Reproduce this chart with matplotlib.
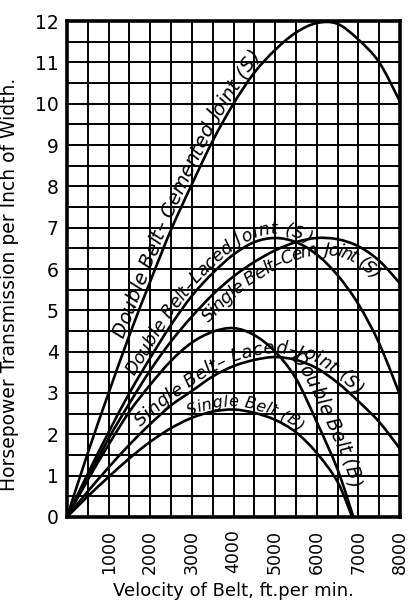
import numpy as np
import matplotlib
matplotlib.use('Agg')
import matplotlib.pyplot as plt
from matplotlib.path import Path
from matplotlib.patches import PathPatch
from matplotlib.transforms import IdentityTransform
from matplotlib.font_manager import FontProperties

# velocity of belt, ft per min
vel = [0, 500, 1000, 1500, 2000, 2500, 3000, 3500, 4000,
       4500, 5000, 5500, 6000, 6500, 7000, 7500, 8000]
dbl_cemented = [0, 1.55, 3.0, 4.4, 5.7, 6.95, 8.05, 9.1, 10.0,
                10.75, 11.3, 11.72, 11.95, 11.93, 11.55, 11.0, 10.05]
dbl_laced = [0, 1.05, 2.05, 3.0, 3.85, 4.65, 5.35, 5.9, 6.35,
             6.65, 6.75, 6.65, 6.35, 5.85, 5.15, 4.2, 2.95]
sgl_cemented = [0, 0.95, 1.9, 2.75, 3.55, 4.25, 4.85, 5.38, 5.82,
                6.17, 6.45, 6.65, 6.75, 6.72, 6.55, 6.2, 5.65]
sgl_laced = [0, 0.62, 1.2, 1.75, 2.25, 2.7, 3.05, 3.4, 3.65,
             3.8, 3.87, 3.8, 3.6, 3.25, 2.8, 2.3, 1.65]
vel_db = [0, 500, 1000, 1500, 2000, 2500, 3000, 3500, 4000,
          4500, 5000, 5500, 6000, 6500, 6880]
dbl_b = [0, 0.9, 1.75, 2.55, 3.2, 3.78, 4.22, 4.48, 4.57,
         4.4, 4.0, 3.35, 2.3, 1.15, 0]
vel_sb = [0, 500, 1000, 1500, 2000, 2500, 3000, 3500, 4000,
          4500, 5000, 5500, 6000, 6500, 6850]
sgl_b = [0, 0.5, 0.97, 1.42, 1.82, 2.15, 2.4, 2.55, 2.6,
         2.52, 2.35, 2.05, 1.55, 0.85, 0]

# label text, start velocity, baseline offset (px), size
curves = [
    (vel, dbl_cemented, 'Double Belt\u2013 Cemented Joint (S)', 1450, 4, 14),
    (vel, dbl_laced, 'Double Belt\u2013Laced Joint (S)', 1700, 4, 12.5),
    (vel, sgl_cemented, 'Single Belt\u2013Cem. Joint (S)', 3100, -17, 12.5),
    (vel, sgl_laced, 'Single Belt\u2013 Laced\u2013Joint (S)', 1850, 4, 13),
    (vel_db, dbl_b, 'Double Belt (B)', 5200, 7, 13.5),
    (vel_sb, sgl_b, 'Single Belt (B)', 2950, 3, 11.5),
]

DPI = 100


def smooth(xs, ys):
    # catmull-rom through the read points, as bezier segments
    p = np.column_stack([xs, ys]).astype(float)
    q = np.vstack([p[0], p, p[-1]])
    verts = [p[0]]
    codes = [Path.MOVETO]
    dense = [p[:1]]
    t = np.linspace(0, 1, 25)[1:, None]
    for i in range(len(p) - 1):
        p0, p1, p2, p3 = q[i], q[i + 1], q[i + 2], q[i + 3]
        c1 = p1 + (p2 - p0) / 6
        c2 = p2 - (p3 - p1) / 6
        verts += [c1, c2, p2]
        codes += [Path.CURVE4] * 3
        dense.append((1 - t) ** 3 * p1 + 3 * (1 - t) ** 2 * t * c1
                     + 3 * (1 - t) * t ** 2 * c2 + t ** 3 * p2)
    return Path(verts, codes), np.vstack(dense)


def curve_label(ax, pts, text, x0, off, size):
    r = ax.figure.canvas.get_renderer()
    fp = FontProperties(size=size, style='italic')

    def width(s):
        return r.get_text_width_height_descent(s, fp, ismath=False)[0]

    P = ax.transData.transform(pts)
    s = np.concatenate([[0], np.cumsum(np.hypot(*np.diff(P, axis=0).T))])
    start = np.interp(x0, pts[:, 0], s)
    for k, ch in enumerate(text):
        if ch == ' ':
            continue
        c = start + width(text[:k + 1]) - width(ch) / 2
        i = int(np.clip(np.searchsorted(s, c), 1, len(s) - 1))
        dx, dy = P[i] - P[i - 1]
        n = np.hypot(dx, dy)
        x = np.interp(c, s, P[:, 0]) - dy / n * off
        y = np.interp(c, s, P[:, 1]) + dx / n * off
        ax.text(x, y, ch, fontproperties=fp, transform=IdentityTransform(),
                ha='center', va='baseline', rotation_mode='anchor',
                rotation=np.degrees(np.arctan2(dy, dx)))


fig = plt.figure(figsize=(4.18, 6.01), dpi=DPI)
ax = fig.add_axes([67 / 418, 84 / 601, 333 / 418, 496 / 601])
ax.set_xlim(0, 8000)
ax.set_ylim(0, 12)

xt = np.arange(0, 8001, 500)
ax.set_xticks(xt)
ax.set_xticklabels([str(v) if v % 1000 == 0 and v > 0 else '' for v in xt],
                   rotation=90, fontsize=12.5)
yt = np.arange(0, 12.01, 0.5)
ax.set_yticks(yt)
ax.set_yticklabels([str(int(v)) if v % 1 == 0 else '' for v in yt], fontsize=13.5)
ax.tick_params(axis='both', length=0)
ax.tick_params(axis='x', pad=9)
ax.tick_params(axis='y', pad=6)
ax.grid(True, color='black', lw=1.4)
ax.set_axisbelow(True)
for sp in ax.spines.values():
    sp.set_linewidth(2.6)

for xs, ys, label, x0, off, size in curves:
    path, dense = smooth(xs, ys)
    ax.add_patch(PathPatch(path, fill=False, lw=1.9, color='black',
                           transform=ax.transData, clip_on=False))
    curve_label(ax, dense, label, x0, off, size)

ax.set_xlabel('Velocity of Belt, ft.per min.', fontsize=13, labelpad=6)
ax.set_ylabel('Horsepower Transmission per Inch of Width.', fontsize=13.5)
ax.yaxis.set_label_coords(-0.145, 0.47)

fig.savefig('out.png', dpi=DPI, facecolor='white')
